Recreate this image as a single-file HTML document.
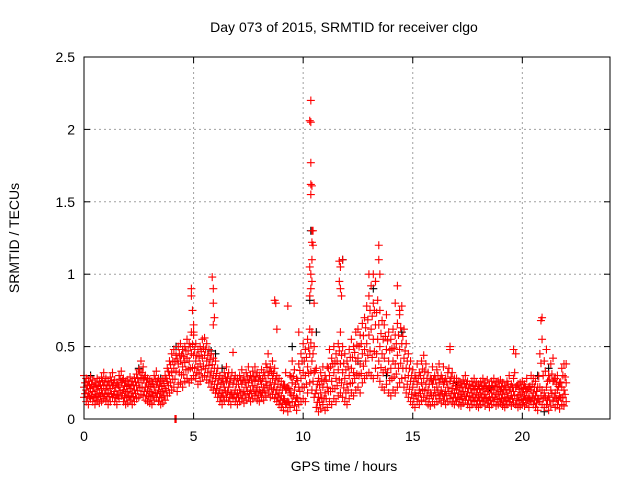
<!DOCTYPE html>
<html><head><meta charset="utf-8"><style>
body{margin:0;background:#fff}
svg{display:block;font-family:"Liberation Sans",sans-serif}
</style></head><body>
<svg id="chart" width="640" height="480" viewBox="0 0 640 480">
<rect width="640" height="480" fill="#fff"/>
<text x="344" y="32" font-size="14" text-anchor="middle">Day 073 of 2015, SRMTID for receiver clgo</text>
<text transform="translate(19,238) rotate(-90)" font-size="14" text-anchor="middle">SRMTID / TECUs</text>
<text x="344" y="471" font-size="14" text-anchor="middle">GPS time / hours</text>
<g id="grid"></g><g id="pts"></g><g id="axes"></g>
</svg>
<script>
const xTicks=[0,5,10,15,20];
const yTicks=[0,0.5,1,1.5,2,2.5];
const yTickLabels=["0","0.5","1","1.5","2","2.5"];
const tStep=0.1;
const lo=[.15,.12,.10,.14,.12,.10,.13,.11,.12,.14,.13,.10,.12,.15,.12,.10,.14,.16,.12,.10,.11,.13,.10,.12,.14,.15,.17,.16,.13,.12,.11,.10,.13,.15,.12,.10,.11,.13,.16,.18,.20,.22,.00,.24,.25,.22,.26,.28,.25,.27,.30,.28,.24,.26,.29,.30,.27,.25,.22,.20,.18,.15,.12,.10,.13,.15,.12,.10,.14,.12,.10,.12,.14,.11,.13,.15,.12,.14,.16,.13,.12,.15,.13,.16,.18,.15,.17,.14,.12,.10,.08,.06,.10,.05,.08,.12,.09,.06,.10,.12,.14,.12,.18,.25,.20,.15,.08,.05,.07,.10,.06,.08,.12,.10,.14,.12,.16,.18,.15,.12,.10,.14,.18,.16,.20,.22,.18,.25,.28,.30,.32,.30,.28,.35,.30,.26,.22,.20,.24,.18,.16,.20,.18,.22,.25,.28,.22,.18,.15,.12,.10,.08,.12,.10,.13,.15,.12,.10,.09,.12,.10,.12,.14,.11,.13,.10,.12,.14,.11,.10,.12,.10,.09,.11,.13,.10,.08,.10,.12,.09,.08,.10,.12,.09,.11,.08,.10,.12,.09,.10,.11,.09,.08,.10,.12,.09,.11,.10,.08,.09,.10,.09,.11,.08,.12,.10,.08,.06,.12,.10,.08,.10,.06,.09,.12,.08,.10,.07,.10,.09,.12];
const mid=[.22,.20,.18,.21,.19,.17,.20,.18,.21,.23,.20,.18,.21,.23,.19,.17,.22,.25,.20,.18,.19,.21,.18,.20,.23,.25,.28,.27,.22,.20,.19,.18,.22,.24,.20,.18,.19,.21,.26,.30,.32,.35,.33,.38,.40,.36,.39,.42,.40,.45,.44,.40,.36,.38,.42,.44,.40,.37,.33,.30,.28,.24,.20,.18,.22,.26,.22,.18,.24,.20,.18,.20,.24,.19,.22,.25,.20,.23,.26,.22,.20,.24,.22,.26,.30,.25,.28,.24,.20,.18,.16,.14,.20,.12,.18,.25,.20,.15,.22,.28,.32,.30,.36,.45,.40,.32,.20,.15,.18,.22,.18,.22,.30,.26,.32,.28,.34,.38,.32,.28,.24,.30,.35,.32,.40,.42,.38,.45,.48,.52,.58,.62,.55,.65,.55,.50,.45,.42,.48,.40,.35,.40,.38,.44,.48,.52,.42,.35,.30,.26,.22,.18,.24,.20,.25,.28,.24,.20,.18,.24,.20,.22,.25,.20,.24,.19,.22,.26,.21,.18,.20,.18,.17,.19,.22,.18,.16,.18,.20,.17,.16,.18,.20,.17,.19,.15,.18,.20,.17,.18,.19,.17,.15,.18,.20,.16,.19,.22,.16,.17,.18,.16,.19,.15,.20,.18,.16,.14,.22,.20,.18,.22,.16,.20,.26,.18,.20,.16,.22,.20,.25];
const hi=[.30,.28,.26,.29,.27,.25,.28,.26,.29,.32,.28,.26,.29,.32,.27,.25,.30,.33,.28,.26,.27,.29,.26,.28,.31,.34,.40,.36,.30,.28,.27,.26,.30,.33,.28,.26,.27,.30,.35,.40,.45,.48,.44,.50,.52,.48,.50,.55,.52,.60,.58,.52,.48,.50,.55,.56,.52,.48,.45,.42,.40,.35,.30,.28,.32,.36,.32,.28,.46,.30,.28,.30,.34,.29,.32,.36,.30,.33,.36,.32,.30,.34,.32,.38,.45,.36,.40,.35,.30,.28,.26,.24,.32,.22,.30,.40,.34,.28,.38,.45,.52,.48,.55,.62,.60,.50,.35,.28,.32,.36,.30,.36,.48,.42,.50,.45,.52,.60,.50,.45,.40,.48,.55,.50,.60,.62,.58,.66,.70,.78,.85,.92,.80,.95,.82,.75,.68,.65,.72,.60,.55,.62,.58,.66,.72,.78,.62,.52,.45,.40,.34,.30,.38,.32,.40,.44,.38,.32,.28,.36,.30,.34,.38,.30,.36,.28,.32,.48,.32,.28,.28,.26,.25,.27,.30,.26,.24,.26,.28,.25,.24,.26,.28,.25,.27,.23,.26,.28,.25,.26,.27,.25,.23,.26,.30,.24,.28,.45,.24,.25,.26,.24,.28,.22,.30,.28,.26,.22,.45,.55,.40,.48,.30,.38,.42,.28,.30,.25,.35,.38,.38];
const spikeT=[4.9,4.9,4.95,5.0,5.0,5.85,5.9,5.9,5.95,5.9,8.7,8.75,8.8,9.3,9.8,10.35,10.3,10.35,10.35,10.35,10.4,10.35,10.4,10.45,10.4,10.45,10.4,10.3,10.35,10.4,10.35,10.3,10.5,11.65,11.7,11.65,11.7,11.75,11.8,13.0,13.2,13.45,13.45,13.5,13.3,14.3,14.2,14.4,20.9,20.85,4.15,4.2,16.7,19.6];
const spikeV=[.9,.85,.75,.65,.6,.98,.9,.8,.7,.65,.82,.8,.62,.78,.6,2.2,2.06,2.05,1.77,1.62,1.61,1.55,1.3,1.3,1.22,1.2,1.1,1.05,1.0,.95,.9,.85,.8,1.09,1.05,.95,.9,.85,1.1,1.0,1.0,1.2,1.1,1.0,.95,.92,.8,.75,.7,.68,0,0,.5,.48];
const blackT=[4.2,4.5,5.8,6.0,6.3,10.35,10.3,10.6,11.8,13.2,14.5,13.8,20.7,21.0,21.2,0.3,2.5,3.5,12.5,9.5,17,18.5];
const blackV=[.5,.48,.47,.45,.35,1.3,.82,.6,1.1,.9,.6,.3,.3,.05,.35,.3,.35,.28,.4,.5,.25,.22];

const X0=84,X1=610,Y0=419,Y1=57;
const xs=t=>X0+t/24*(X1-X0);
const ys=v=>Y0-v/2.5*(Y0-Y1);
const NS="http://www.w3.org/2000/svg";
function mk(tag,attrs,parent){const e=document.createElementNS(NS,tag);for(const k in attrs)e.setAttribute(k,attrs[k]);parent.appendChild(e);return e;}
const grid=document.getElementById('grid'),axes=document.getElementById('axes'),pts=document.getElementById('pts');
xTicks.forEach(t=>{
  const x=xs(t);
  if(t>0){const g=mk('line',{x1:x,x2:x,y1:Y1,y2:Y0,stroke:'#a0a0a0','stroke-dasharray':'2,3'},grid);
  
  }
  mk('line',{x1:x,x2:x,y1:Y0,y2:Y0-6,stroke:'#000'},axes);
  mk('line',{x1:x,x2:x,y1:Y1,y2:Y1+6,stroke:'#000'},axes);
  const l=mk('text',{x:x,y:Y0+22,'font-size':'14','text-anchor':'middle'},axes);l.textContent=t;
  
  
});
yTicks.forEach((v,i)=>{
  const y=ys(v);
  if(v>0&&v<2.5){const g=mk('line',{x1:X0,x2:X1,y1:y,y2:y,stroke:'#a0a0a0','stroke-dasharray':'2,3'},grid);
  
  }
  mk('line',{x1:X0,x2:X0+6,y1:y,y2:y,stroke:'#000'},axes);
  mk('line',{x1:X1,x2:X1-6,y1:y,y2:y,stroke:'#000'},axes);
  const l=mk('text',{x:X0-9,y:y+5,'font-size':'14','text-anchor':'end'},axes);l.textContent=yTickLabels[i];
  
  
});
const frame=mk('rect',{x:X0,y:Y1,width:X1-X0,height:Y0-Y1,fill:'none',stroke:'#000'},axes);


function plus(t,v,c,name){
  const x=xs(t),y=ys(v);
  const p=mk('path',{d:`M${x-4},${y}h8M${x},${y-4}v8`,stroke:c,'stroke-width':'1.1',fill:'none'},pts);
  
  
}
for(let i=0;i<blackT.length;i++)plus(blackT[i],blackV[i],'#000','black-point');
[lo,mid,hi].forEach(arr=>arr.forEach((v,i)=>plus(i*tStep,v,'#f00','red-point')));
for(let i=0;i<lo.length-1;i++){plus(i*tStep+0.05,(lo[i]+mid[i+1])/2,'#f00','red-point');plus(i*tStep+0.05,(mid[i]+hi[i+1])/2,'#f00','red-point');}
for(let i=0;i<spikeT.length;i++)plus(spikeT[i],spikeV[i],'#f00','red-point');
</script>
</body></html>
